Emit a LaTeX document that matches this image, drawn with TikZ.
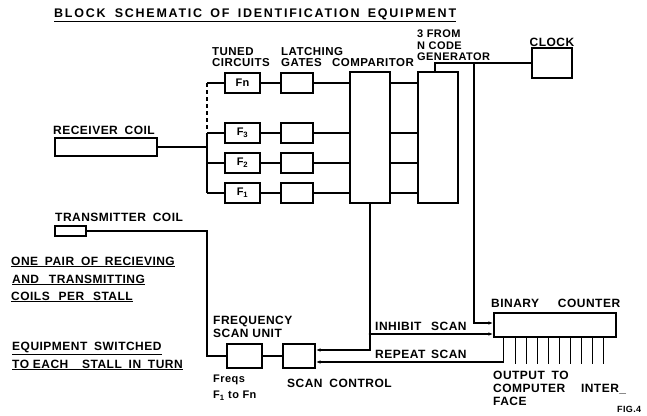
\documentclass[tikz,border=0pt]{standalone}
\usepackage{fontspec}
\setmainfont{Liberation Sans}[LetterSpace=4]
\newfontfamily\titlefont{Liberation Sans}[LetterSpace=14]
\usetikzlibrary{arrows.meta}
\begin{document}
\begin{tikzpicture}[x=1pt,y=-1pt,
  blk/.style={draw, line width=1.4pt, inner sep=0pt},
  tune/.style={blk, minimum width=35pt, minimum height=20pt, font=\bfseries\fontsize{11}{11}\selectfont},
  latch/.style={blk, minimum width=32pt, minimum height=20pt},
  tall/.style={blk, minimum width=40pt, minimum height=131pt},
  lab/.style={font=\bfseries\fontsize{12}{11.5}\selectfont, inner sep=0pt, anchor=west, align=left},
  note/.style={font=\bfseries\fontsize{12}{12}\selectfont, inner sep=0pt, anchor=west},
  wire/.style={line width=1.4pt},
  arr/.style={wire, -{Latex[length=5pt,width=3.5pt]}},
  dot/.style={circle, fill, inner sep=0pt, minimum size=3pt}]
\useasboundingbox (0,0) rectangle (647,415);

% title
\node[inner sep=0pt, anchor=west, font=\titlefont\bfseries\fontsize{12.5}{12}\selectfont] (title) at (54,15)
  {\underline{BLOCK\hspace{4pt} SCHEMATIC\hspace{3pt} OF\hspace{3pt} IDENTIFICATION\hspace{3pt} EQUIPMENT}};

% receiver coil
\node[lab] (rcl) at (53,130) {RECEIVER\hspace{3pt} COIL};
\node[blk, minimum width=102pt, minimum height=18pt] (rc) at (106,147) {};

% tuned circuits
\node[lab, font=\bfseries\fontsize{11.5}{11}\selectfont] (tcl) at (212,57.5) {TUNED\\CIRCUITS};
\node[tune] (fn) at (242.5,83) {Fn};
\node[tune] (f3) at (242.5,133) {F\textsubscript{3}};
\node[tune] (f2) at (242.5,163) {F\textsubscript{2}};
\node[tune] (f1) at (242.5,193) {F\textsubscript{1}};

% latching gates
\node[lab, font=\bfseries\fontsize{11.5}{11.5}\selectfont] (lgl) at (281,57) {LATCHING\\GATES};
\node[latch] (ln) at (297,83) {};
\node[latch] (l3) at (297,133) {};
\node[latch] (l2) at (297,163) {};
\node[latch] (l1) at (297,193) {};

% comparitor & code generator
\node[lab, anchor=center, font=\bfseries\fontsize{11.5}{11.5}\selectfont] (cml) at (373,63) {COMPARITOR};
\node[tall] (cmp) at (370,137.5) {};
\node[lab, font=\bfseries\fontsize{11}{11.5}\selectfont] (cgl) at (417,45.5) {3 FROM\\N CODE\\GENERATOR};
\node[tall] (cg) at (438,137.5) {};

% clock
\node[lab, anchor=center] (clkl) at (552,42) {CLOCK};
\node[blk, minimum width=40pt, minimum height=30pt] (clk) at (552,63) {};

% transmitter coil
\node[lab] (tcoill) at (55,217) {TRANSMITTER\hspace{3pt} COIL};
\node[blk, minimum width=31pt, minimum height=10pt] (tc) at (70.5,231) {};

% notes
\node[note] (n1) at (11,262) {\underline{ONE\hspace{3pt} PAIR\hspace{3pt} OF\hspace{3pt} RECIEVING}};
\node[note] (n2) at (12,280) {\underline{AND\hspace{6pt} TRANSMITTING}};
\node[note] (n3) at (11,297) {\underline{COILS\hspace{5pt} PER\hspace{5pt} STALL}};
\node[note] (n4) at (12,348) {\underline{EQUIPMENT\hspace{3pt} SWITCHED}};
\node[note] (n5) at (12,365) {\underline{TO EACH\hspace{10pt} STALL\hspace{3pt} IN\hspace{3pt} TURN}};

% frequency scan unit & scan control
\node[lab, font=\bfseries\fontsize{12}{13}\selectfont] (fsl) at (213,326.5) {FREQUENCY\\SCAN UNIT};
\node[blk, minimum width=35pt, minimum height=24pt] (fs) at (244.5,356) {};
\node[lab, font=\bfseries\fontsize{11}{16}\selectfont] (fql) at (213,388) {Freqs\\F\textsubscript{1} to Fn};
\node[blk, minimum width=32pt, minimum height=24pt] (sc) at (299,356) {};
\node[lab] (scl) at (287,383) {SCAN\hspace{3pt} CONTROL};

% binary counter
\node[lab] (bcl) at (491,303) {BINARY\hspace{15pt} COUNTER};
\node[blk, minimum width=122pt, minimum height=24pt] (bc) at (555,325) {};
\node[lab, font=\bfseries\fontsize{12}{13}\selectfont] (outl) at (493,388) {OUTPUT\hspace{3pt} TO\\COMPUTER\hspace{12pt} INTER\_\\FACE};
\node[lab, font=\bfseries\fontsize{9}{9}\selectfont] (fig) at (617,409) {FIG.4};

\node[lab] (inh) at (375,326) {INHIBIT\hspace{6pt} SCAN};
\node[lab] (rep) at (375,354) {REPEAT\hspace{2pt} SCAN};

% bus from receiver coil
\coordinate (bn) at (207,83);
\coordinate (bd) at (207,129);
\coordinate (b3) at (207,133);
\coordinate (br) at (207,147);
\coordinate (b2) at (207,163);
\coordinate (b1) at (207,193);
\draw[wire] (rc.east) -- (br);
\draw[wire, dash pattern=on 4pt off 3pt] (bn) -- (bd);
\draw[wire] (b3) -- (b1);
\draw[wire] (bn) -- (fn.west);
\draw[wire] (b3) -- (f3.west);
\draw[wire] (b2) -- (f2.west);
\draw[wire] (b1) -- (f1.west);

% tuned -> latch -> comparitor -> code gen
\foreach \f/\l in {fn/ln, f3/l3, f2/l2, f1/l1}{
  \draw[wire] (\f.east) -- (\l.west);
  \draw[wire] (\l.east) -- (\l.east -| cmp.west);
  \draw[wire] (cmp.east |- \l.east) -- (cg.west |- \l.east);
}

% code generator to clock, clock to counter
\coordinate (cgt) at (435,63);
\coordinate (j1) at (474,63);
\draw[wire] (cgt |- cg.north) -- (cgt) -- (clk.west);
\draw[arr] (j1) |- ([yshift=2pt]bc.west);

% comparitor output
\coordinate (jc) at (370,334);
\draw[wire] (cmp.south) -- (jc);
\node[dot] (jd) at (jc) {};
\draw[arr] (jc) -- ([yshift=-9pt]bc.west);
\draw[arr] (jc) |- ([yshift=6pt]sc.east);

% repeat scan
\draw[arr] ([xshift=10pt]bc.south west) |- ([yshift=-6pt]sc.east);

% outputs
\foreach \i in {0,...,8}{
  \pgfmathsetmacro{\dx}{22+11*\i}
  \draw[wire] ([xshift=\dx pt]bc.south west) -- ++(0,26);
}

% transmitter coil to frequency scan unit
\coordinate (tk1) at (207,231);
\coordinate (tk2) at (207,356);
\draw[wire] (tc.east) -- (tk1) -- (tk2) -- (fs.west);
\draw[wire] (fs.east) -- (sc.west);
\end{tikzpicture}
\end{document}
